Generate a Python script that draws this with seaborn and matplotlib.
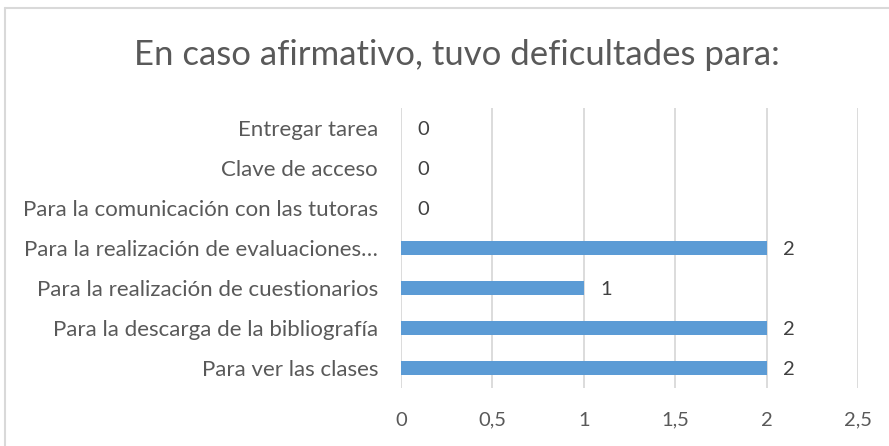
import matplotlib
matplotlib.use("Agg")
import matplotlib.pyplot as plt
from matplotlib.lines import Line2D
import seaborn as sns
import pandas as pd

categories = [
    "Entregar tarea",
    "Clave de acceso",
    "Para la comunicación con las tutoras",
    "Para la realización de evaluaciones…",
    "Para la realización de cuestionarios",
    "Para la descarga de la bibliografía",
    "Para ver las clases",
]
values = [0, 0, 0, 2, 1, 2, 2]
xticks = [0, 0.5, 1, 1.5, 2, 2.5]
xtick_labels = ["0", "0,5", "1", "1,5", "2", "2,5"]
title = "En caso afirmativo, tuvo deficultades para:"

sns.set_theme(style="white")
plt.rcParams["font.family"] = ["Lato", "DejaVu Sans"]

text_color = "#595959"
bar_color = "#5B9BD5"
grid_color = "#D9D9D9"

df = pd.DataFrame({"categoria": categories, "valor": values})

fig = plt.figure(figsize=(8.89, 4.46), dpi=100)
ax = fig.add_axes([401 / 889, 1 - 388 / 446, 457 / 889, 280 / 446])

sns.barplot(data=df, x="valor", y="categoria", order=categories, orient="h",
            color=bar_color, width=0.36, saturation=1, linewidth=0, ax=ax)

ax.set_xlim(0, 2.5)
ax.set_ylim(len(categories) - 0.5, -0.5)
ax.set_xticks(xticks)
ax.set_xticklabels(xtick_labels, color=text_color, fontsize=14.5)
ax.tick_params(axis="x", length=0, pad=17)
ax.tick_params(axis="y", length=0, pad=16.5, labelsize=16, labelcolor=text_color)
ax.set_xlabel("")
ax.set_ylabel("")
for s in ax.spines.values():
    s.set_visible(False)
ax.xaxis.grid(True, color=grid_color, linewidth=1.3)
ax.set_axisbelow(True)

for i, v in enumerate(values):
    ax.text(v + 0.09, i + 0.03, str(v), va="center", ha="left", fontsize=14.5, color="#404040")

fig.text(456.5 / 889, 1 - 55 / 446, title, ha="center", va="center", fontsize=25,
         color=text_color)

fig.add_artist(Line2D([5 / 889, 5 / 889], [0, 1 - 8 / 446], transform=fig.transFigure,
                      color=grid_color, linewidth=1.5))
fig.add_artist(Line2D([5 / 889, 1], [1 - 8 / 446, 1 - 8 / 446], transform=fig.transFigure,
                      color=grid_color, linewidth=1.5))

fig.savefig("out.png", dpi=100, facecolor="white")
